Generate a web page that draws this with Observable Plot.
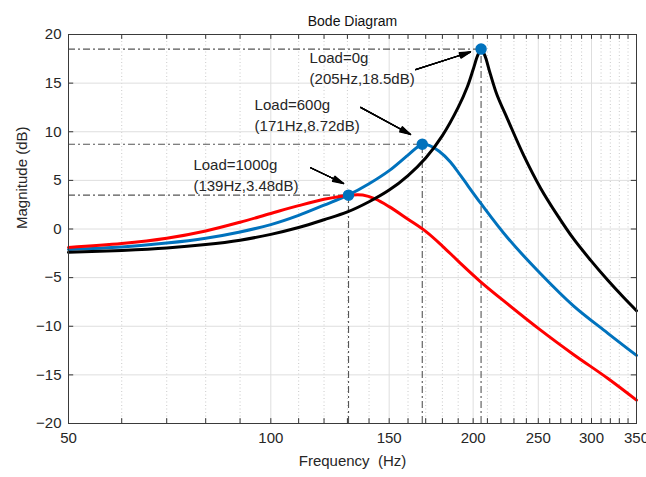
<!DOCTYPE html>
<html>
<head>
<meta charset="utf-8">
<script src="https://cdn.jsdelivr.net/npm/d3@7"></script>
<script src="https://cdn.jsdelivr.net/npm/@observablehq/plot@0.6"></script>
<style>
  html, body { margin: 0; padding: 0; background: #fff; }
  #chart { width: 646px; height: 477px; }
</style>
</head>
<body>
<div id="chart"></div>
<script>
// ---- Data ----
const xTicks = [50, 100, 150, 200, 250, 300, 350];
const minorTicks = [60, 70, 80, 90, 100, 110, 120, 130, 140, 150, 160, 170, 180, 190, 200, 210, 220, 230, 240, 250, 260, 270, 280, 290, 300, 310, 320, 330, 340];
const yTicks = [-20, -15, -10, -5, 0, 5, 10, 15, 20];
const xDomain = [50, 350];
const yDomain = [-20, 20];

// Load = 0 g (black)
const freq0 = [50, 60, 70, 80, 90, 100, 110, 120, 130, 140, 150, 160, 170, 180, 190, 196, 200, 203, 205.5, 208, 212, 217, 225, 237.7, 252, 267, 282, 299, 317, 335, 350];
const mag0  = [-2.4, -2.2, -1.95, -1.6, -1.15, -0.55, 0.15, 0.95, 1.75, 2.8, 4.0, 5.5, 7.3, 9.6, 12.5, 14.6, 16.4, 17.8, 18.5, 17.9, 16.0, 13.8, 11.3, 7.6, 4.2, 1.4, -1.0, -3.2, -5.25, -7.05, -8.4];

// Load = 600 g (blue)
const freq600 = [50, 60, 70, 80, 90, 100, 110, 120, 130.5, 140, 150, 160, 168, 172, 178, 185, 192, 205.5, 225, 252, 282, 317, 350];
const mag600  = [-2.1, -1.85, -1.45, -0.95, -0.3, 0.45, 1.4, 2.45, 3.5, 4.65, 6.0, 7.6, 8.72, 8.6, 8.0, 6.9, 5.4, 2.6, -0.9, -4.6, -7.9, -10.7, -13.0];

// Load = 1000 g (red)
const freq1000 = [50, 60, 70, 80, 90, 100, 110, 120, 130.5, 137, 143, 150, 160, 170, 180, 190, 205, 225, 252, 282, 317, 350];
const mag1000  = [-1.9, -1.5, -0.95, -0.2, 0.7, 1.6, 2.4, 3.05, 3.48, 3.5, 3.1, 2.3, 1.0, -0.25, -1.75, -3.3, -5.4, -7.7, -10.4, -12.9, -15.35, -17.6];

// Marked peaks (as drawn) and their labels
const peakFreq = [205.5, 168, 130.5];
const peakMag  = [18.5, 8.72, 3.48];
const peakText = ["Load=0g\n(205Hz,18.5dB)", "Load=600g\n(171Hz,8.72dB)", "Load=1000g\n(139Hz,3.48dB)"];
const labelFreq = [114.2, 94.6, 76.7];
const labelMag  = [16.66, 11.88, 5.71];
const arrowFrom = [[164.2, 16.4], [136, 12.5], [114.6, 6.3]];
const arrowTo   = [[198.2, 18.2], [161.4, 9.72], [128.3, 4.68]];

// ---- Tables built from the arrays ----
const series = [
  ...freq600.map((f, i) => ({f, m: mag600[i], s: "600"})),
  ...freq1000.map((f, i) => ({f, m: mag1000[i], s: "1000"})),
  ...freq0.map((f, i) => ({f, m: mag0[i], s: "0"}))
];
const colors = {"0": "#000000", "600": "#0072BD", "1000": "#FF0000"};
const peaks = peakFreq.map((f, i) => ({f, m: peakMag[i], text: peakText[i], lf: labelFreq[i], lm: labelMag[i],
  x1: arrowFrom[i][0], y1: arrowFrom[i][1], x2: arrowTo[i][0], y2: arrowTo[i][1]}));

const font = "'Liberation Sans', Arial, Helvetica, sans-serif";
const dashDot = "7,3,2,3";

const arrowHeads = [6, 14, 22, 30].map(a => Plot.arrow(peaks, {
  x1: "x1", y1: "y1", x2: "x2", y2: "y2", stroke: "#000", strokeWidth: 1.3,
  headAngle: a, headLength: 13
}));

const chart = Plot.plot({
  width: 646,
  height: 477,
  marginLeft: 68,
  marginRight: 10,
  marginTop: 34,
  marginBottom: 54,
  style: {fontFamily: font, background: "#fff"},
  x: {type: "log", domain: xDomain},
  y: {domain: yDomain},
  marks: [
    // grid
    Plot.ruleX(minorTicks.filter(d => !xTicks.includes(d)), {stroke: "#bdbdbd", strokeWidth: 0.8, strokeDasharray: "1,2.5"}),
    Plot.ruleX(xTicks.filter(d => d > 50 && d < 350), {stroke: "#dedede", strokeWidth: 1}),
    Plot.ruleY(yTicks.filter(d => d > -20 && d < 20), {stroke: "#dedede", strokeWidth: 1}),
    // axes labels
    Plot.axisX({ticks: xTicks, tickFormat: d => String(d), tickSize: 0, tickPadding: 9, fontSize: 15, color: "#262626", label: null}),
    Plot.axisY({ticks: yTicks, tickSize: 0, tickPadding: 7, fontSize: 15, color: "#262626", label: null}),
    // inward ticks
    Plot.ruleX(minorTicks, {y1: yDomain[0], y2: yDomain[0] + 0.5, stroke: "#333"}),
    Plot.ruleX(minorTicks, {y1: yDomain[1], y2: yDomain[1] - 0.5, stroke: "#333"}),
    Plot.ruleY(yTicks, {x1: xDomain[0], x2: 50.9, stroke: "#333"}),
    Plot.ruleY(yTicks, {x1: 343.8, x2: xDomain[1], stroke: "#333"}),
    // dash-dot guides
    Plot.ruleY(peaks, {y: "m", x1: xDomain[0], x2: "f", stroke: "#555", strokeWidth: 1.1, strokeDasharray: dashDot}),
    Plot.ruleX(peaks, {x: "f", y1: yDomain[0], y2: "m", stroke: "#555", strokeWidth: 1.1, strokeDasharray: dashDot}),
    // curves
    Plot.line(series, {x: "f", y: "m", z: "s", stroke: d => colors[d.s], strokeWidth: 3, curve: "catmull-rom"}),
    // peak markers
    Plot.dot(peaks, {x: "f", y: "m", r: 5, fill: "#0072BD", stroke: "#0072BD"}),
    // annotations
    ...arrowHeads,
    Plot.text(peaks, {x: "lf", y: "lm", text: "text", textAnchor: "start", lineAnchor: "middle", lineHeight: 1.4, fontSize: 15, fill: "#262626"}),
    // frame
    Plot.frame({stroke: "#3a3a3a", strokeWidth: 1}),
    // titles
    Plot.text(["Bode Diagram"], {frameAnchor: "top", dy: -18, fontSize: 14, fill: "#111"}),
    Plot.text(["Frequency\u00a0 (Hz)"], {frameAnchor: "bottom", dy: 42, fontSize: 15, fill: "#262626"}),
    Plot.text(["Magnitude (dB)"], {frameAnchor: "left", dx: -46, rotate: -90, fontSize: 15, fill: "#262626"})
  ]
});
document.getElementById("chart").appendChild(chart);
</script>
</body>
</html>
